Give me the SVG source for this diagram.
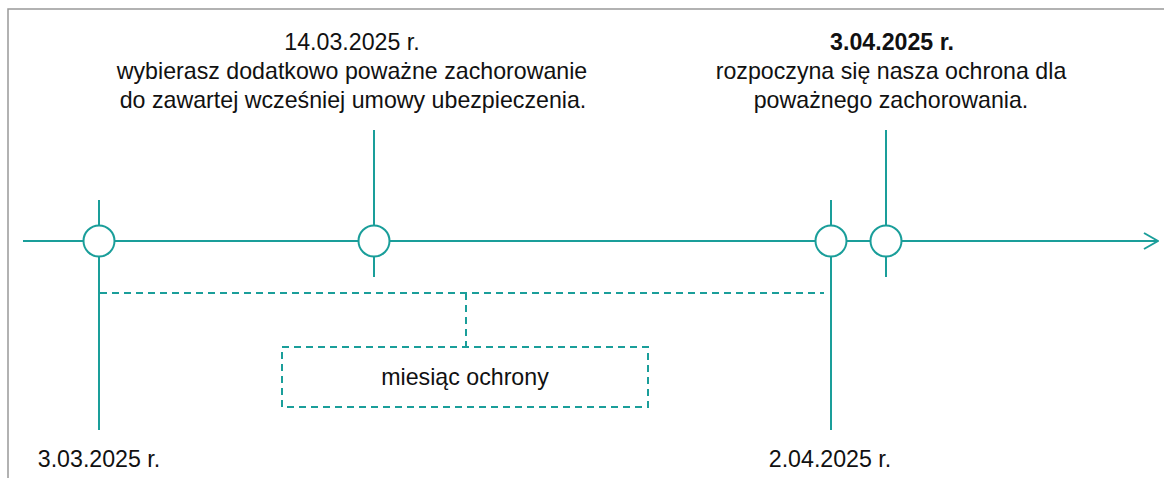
<svg xmlns="http://www.w3.org/2000/svg" width="1164" height="478" viewBox="0 0 1164 478">
<style>
.ln{stroke:#1a9e9a;stroke-width:2;fill:none}
.dash{stroke:#1a9e9a;stroke-width:2;fill:none;stroke-dasharray:7 5}
.c{stroke:#1a9e9a;stroke-width:2;fill:#fff}
.t{font-family:"Liberation Sans",Arial,sans-serif;font-size:23.2px;fill:#111;text-anchor:middle}
.b{font-weight:bold}
.frame{stroke:#999;stroke-width:1.5;fill:none}
</style>
<defs>
<marker id="arr" viewBox="0 0 16 18" refX="15" refY="9" markerWidth="16" markerHeight="18" markerUnits="userSpaceOnUse" orient="auto">
<path d="M1,1 L15,9 L1,17" fill="none" stroke="#1a9e9a" stroke-width="2"/>
</marker>
</defs>
<rect width="1164" height="478" fill="#fff"/>
<path class="frame" d="M8,478 V9 H1164"/>
<g id="connectors">
<line class="ln" x1="23" y1="241" x2="1158" y2="241" marker-end="url(#arr)"/>
<path class="dash" d="M100,293 H824"/>
<path class="dash" d="M466,293 V347"/>
</g>
<g id="n1">
<line class="ln" x1="99" y1="200" x2="99" y2="430"/>
<circle class="c" cx="99" cy="241" r="15.5"/>
<text class="t" x="99" y="467">3.03.2025 r.</text>
</g>
<g id="n2">
<line class="ln" x1="374" y1="130" x2="374" y2="277"/>
<circle class="c" cx="374" cy="241" r="15.5"/>
<text class="t" x="352" y="50">14.03.2025 r.</text>
<text class="t" x="352" y="79">wybierasz dodatkowo poważne zachorowanie</text>
<text class="t" x="353" y="108">do zawartej wcześniej umowy ubezpieczenia.</text>
</g>
<g id="n3">
<line class="ln" x1="831" y1="200" x2="831" y2="430"/>
<circle class="c" cx="831" cy="241" r="15.5"/>
<text class="t" x="830" y="467">2.04.2025 r.</text>
</g>
<g id="n4">
<line class="ln" x1="886" y1="130" x2="886" y2="277"/>
<circle class="c" cx="886" cy="241" r="15.5"/>
<text class="t b" x="892" y="50">3.04.2025 r.</text>
<text class="t" x="891" y="79">rozpoczyna się nasza ochrona dla</text>
<text class="t" x="891" y="108">poważnego zachorowania.</text>
</g>
<g id="box">
<rect class="dash" x="282" y="347" width="366" height="60"/>
<text class="t" x="465" y="385">miesiąc ochrony</text>
</g>
</svg>
